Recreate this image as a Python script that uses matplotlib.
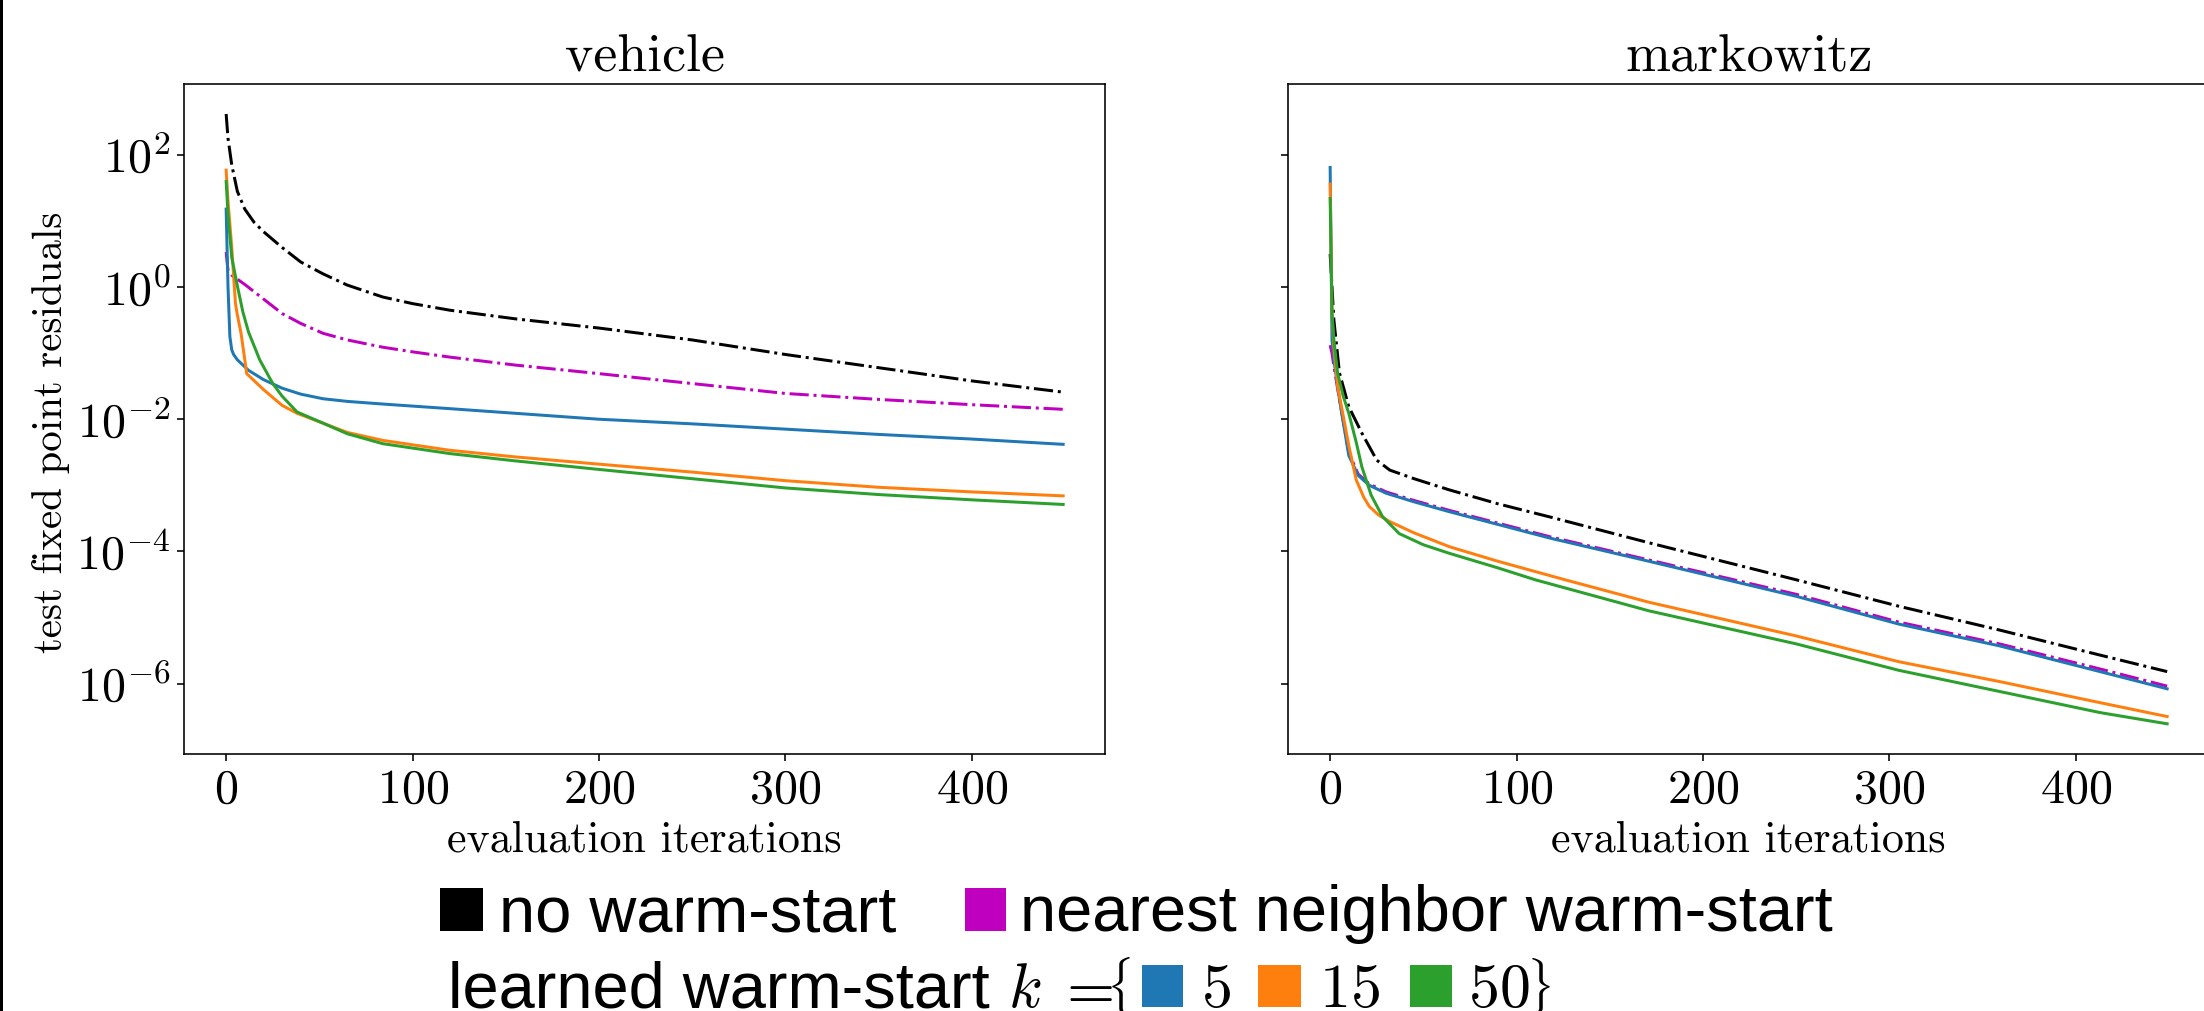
import numpy as np
import matplotlib
matplotlib.use("Agg")
import matplotlib.pyplot as plt
from matplotlib.patches import Rectangle
from matplotlib.ticker import NullLocator, FixedLocator

plt.rcParams['font.family'] = ['cmr10', 'DejaVu Serif']
plt.rcParams['mathtext.fontset'] = 'cm'
plt.rcParams['axes.formatter.use_mathtext'] = True
plt.rcParams['axes.unicode_minus'] = False

# ---------------- data (log10 of residual) ----------------
titles = ["vehicle", "markowitz"]
legend_labels = ["no warm-start", "nearest neighbor warm-start", "learned warm-start"]
k_values = ["5", "15", "50"]

# vehicle
veh_none_it = [0, 1, 3, 6, 10, 15, 20, 30, 40, 52, 65, 84, 100, 120, 155, 200, 250, 300, 350, 400, 449]
veh_none_log = [2.62, 2.25, 1.85, 1.45, 1.18, 0.98, 0.84, 0.60, 0.38, 0.20, 0.03, -0.15, -0.25, -0.35, -0.48, -0.62, -0.80, -1.02, -1.22, -1.42, -1.59]
veh_nn_it = [0, 1, 3, 6, 10, 15, 20, 30, 40, 52, 65, 84, 100, 120, 155, 200, 250, 300, 350, 400, 449]
veh_nn_log = [0.53, 0.25, 0.18, 0.12, 0.04, -0.07, -0.18, -0.40, -0.55, -0.70, -0.80, -0.91, -0.98, -1.06, -1.18, -1.31, -1.46, -1.61, -1.70, -1.78, -1.85]
veh_k5_it = [0, 1, 2, 3, 4, 6, 12, 20, 30, 40, 52, 65, 84, 120, 155, 200, 250, 300, 350, 400, 449]
veh_k5_log = [1.18, 0.0, -0.75, -0.95, -1.02, -1.10, -1.26, -1.40, -1.53, -1.62, -1.69, -1.73, -1.77, -1.84, -1.91, -2.00, -2.07, -2.15, -2.23, -2.30, -2.38]
veh_k15_it = [0, 1, 3, 5, 6, 8, 10, 11, 20, 30, 38, 52, 65, 84, 120, 155, 200, 250, 300, 350, 400, 449]
veh_k15_log = [1.77, 1.30, 0.60, -0.25, -0.42, -0.70, -1.10, -1.31, -1.55, -1.79, -1.91, -2.06, -2.20, -2.32, -2.47, -2.57, -2.68, -2.80, -2.93, -3.03, -3.10, -3.16]
veh_k50_it = [0, 1, 3, 6, 9, 12, 18, 25, 30, 38, 52, 65, 84, 120, 155, 200, 250, 300, 350, 400, 449]
veh_k50_log = [1.60, 1.10, 0.45, 0.02, -0.38, -0.68, -1.10, -1.46, -1.65, -1.89, -2.06, -2.22, -2.37, -2.52, -2.63, -2.76, -2.90, -3.04, -3.14, -3.22, -3.29]

# markowitz
mk_none_it = [0, 1, 2, 5, 10, 17, 25, 32, 45, 64, 90, 118, 171, 250, 305, 359, 413, 449]
mk_none_log = [0.50, 0.00, -0.50, -1.30, -1.81, -2.21, -2.62, -2.77, -2.90, -3.07, -3.28, -3.48, -3.87, -4.43, -4.83, -5.19, -5.57, -5.82]
mk_nn_it = [0, 1, 2, 5, 10, 15, 21, 30, 45, 64, 118, 171, 250, 305, 359, 413, 449]
mk_nn_log = [-0.88, -1.00, -1.20, -1.70, -2.50, -2.83, -2.98, -3.10, -3.23, -3.38, -3.78, -4.13, -4.65, -5.07, -5.40, -5.78, -6.04]
mk_k5_it = [0, 1, 2, 5, 10, 15, 21, 30, 45, 64, 118, 171, 250, 305, 359, 413, 449]
mk_k5_log = [1.81, -0.80, -1.10, -1.70, -2.55, -2.85, -3.00, -3.12, -3.25, -3.40, -3.80, -4.15, -4.68, -5.10, -5.43, -5.82, -6.08]
mk_k15_it = [0, 1, 2, 4, 7, 10, 14, 18, 21, 26, 32, 45, 64, 90, 126, 171, 250, 305, 359, 413, 449]
mk_k15_log = [1.56, -0.40, -0.90, -1.50, -1.95, -2.40, -2.92, -3.18, -3.32, -3.45, -3.55, -3.72, -3.93, -4.15, -4.43, -4.77, -5.28, -5.67, -5.97, -6.29, -6.50]
mk_k50_it = [0, 1, 2, 4, 7, 10, 14, 17, 22, 28, 37, 50, 64, 90, 110, 171, 250, 305, 359, 413, 449]
mk_k50_log = [1.34, -0.40, -0.80, -1.30, -1.65, -1.91, -2.35, -2.72, -3.15, -3.47, -3.73, -3.90, -4.03, -4.25, -4.43, -4.90, -5.40, -5.80, -6.12, -6.44, -6.61]

c_none, c_nn = "black", "m"
c_k = ["#1f77b4", "#ff7f0e", "#2ca02c"]

# ---------------- figure ----------------
W, H = 2204, 1011
DPI = 144
fig = plt.figure(figsize=(W / DPI, H / DPI), dpi=DPI)

def fx(x):
    return x / W

def fy(y):
    return 1 - y / H

ax_l, ax_t, ax_r, ax_b = 184.3, 83.5, 1105.0, 754.3
aw = (ax_r - ax_l) / W
ah = (ax_b - ax_t) / H
ax1 = fig.add_axes([fx(ax_l), fy(ax_b), aw, ah])
ax2 = fig.add_axes([fx(1288.3), fy(ax_b), aw, ah], sharey=ax1)

datasets = [
    [(veh_none_it, veh_none_log), (veh_nn_it, veh_nn_log), (veh_k5_it, veh_k5_log),
     (veh_k15_it, veh_k15_log), (veh_k50_it, veh_k50_log)],
    [(mk_none_it, mk_none_log), (mk_nn_it, mk_nn_log), (mk_k5_it, mk_k5_log),
     (mk_k15_it, mk_k15_log), (mk_k50_it, mk_k50_log)],
]
styles = [(c_none, "-."), (c_nn, "-."), (c_k[0], "-"), (c_k[1], "-"), (c_k[2], "-")]

for ax, data, title in zip([ax1, ax2], datasets, titles):
    for (it, lg), (col, ls) in zip(data, styles):
        ax.plot(it, 10.0 ** np.array(lg), color=col, linestyle=ls, linewidth=1.5)
    ax.set_yscale("log")
    ax.set_title(title, fontsize=27)
    ax.set_xlabel("evaluation iterations", fontsize=22)
    ax.tick_params(labelsize=24)
    ax.set_xticks([0, 100, 200, 300, 400])

ax1.yaxis.set_major_locator(FixedLocator([1e-6, 1e-4, 1e-2, 1e0, 1e2]))
ax1.yaxis.set_minor_locator(NullLocator())
ax2.yaxis.set_minor_locator(NullLocator())
plt.setp(ax2.get_yticklabels(), visible=False)
ax1.set_ylabel("test fixed point residuals", fontsize=20.5)
ax1.yaxis.set_label_coords(-0.124, 0.48)

# ---------------- custom legend ----------------
sans = "Liberation Sans"
fs_leg = 32.5
fs_math = 31

def square(x0, x1, y0, y1, color):
    fig.patches.append(Rectangle((fx(x0), fy(y1)), fx(x1) - fx(x0), fy(y0) - fy(y1),
                                 transform=fig.transFigure, color=color, lw=0))

square(440, 483, 888, 931, c_none)
fig.text(fx(499), fy(931), legend_labels[0], family=sans, fontsize=fs_leg, va="baseline", ha="left")
square(965, 1006, 888, 931, c_nn)
fig.text(fx(1020), fy(931), legend_labels[1], family=sans, fontsize=fs_leg, va="baseline", ha="left")

fig.text(fx(448), fy(1007), legend_labels[2], family=sans, fontsize=fs_leg, va="baseline", ha="left")
fig.text(fx(1008), fy(1007), r"$k$", fontsize=fs_math, va="baseline", ha="left")
fig.text(fx(1056), fy(1007), r"$=$", fontsize=fs_math, va="baseline", ha="left")
fig.text(fx(1106), fy(1005), r"$\{$", fontsize=24, va="baseline", ha="left")
kx = [(1142, 1183, 1201), (1258, 1301, 1319), (1410, 1452, 1468)]
for (x0, x1, tx), col, lab in zip(kx, c_k, k_values):
    square(x0, x1, 965, 1007, col)
    fig.text(fx(tx), fy(1007), "$" + lab + "$", fontsize=fs_math, va="baseline", ha="left")
fig.text(fx(1526), fy(1005), r"$\}$", fontsize=24, va="baseline", ha="left")

# black edge strip at left
fig.patches.append(Rectangle((0, 0), fx(3), 1, transform=fig.transFigure, color="black", lw=0))

fig.savefig("out.png", dpi=DPI)
